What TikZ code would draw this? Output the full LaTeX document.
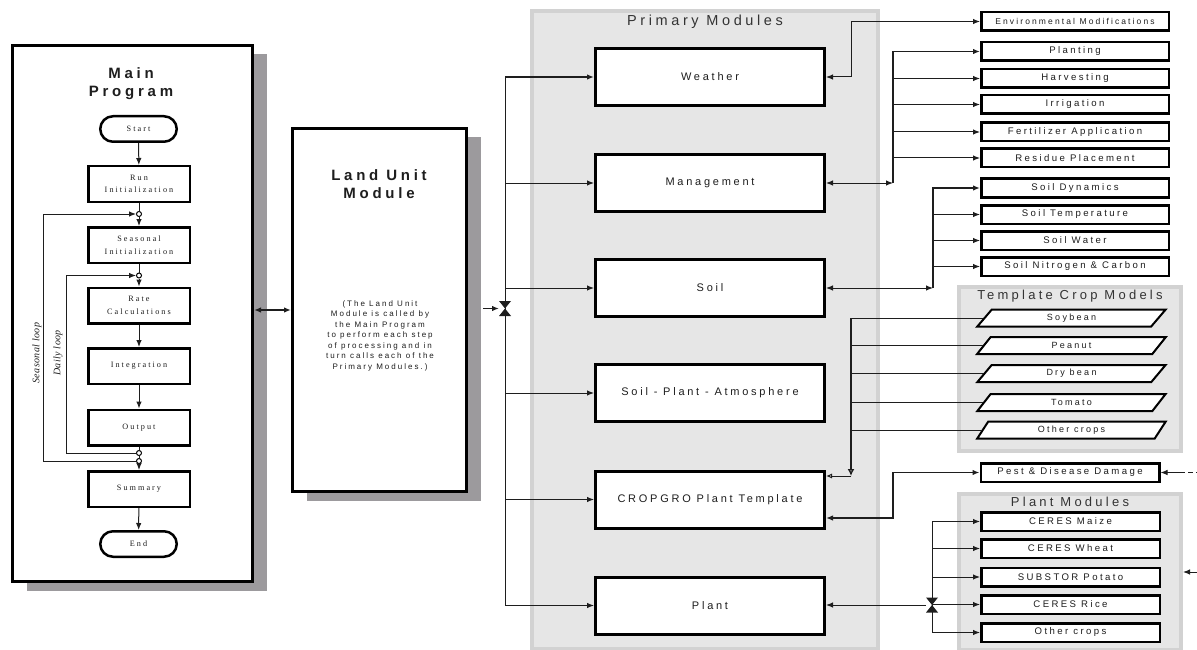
\documentclass[tikz,border=0pt]{standalone}
\usepackage{fontspec}
\setmainfont{Liberation Serif}
\setsansfont{Liberation Sans}
\newfontfamily\lsans[LetterSpace=25]{Liberation Sans}
\newfontfamily\lserif[LetterSpace=25]{Liberation Serif}
\newfontfamily\lseriftight[LetterSpace=4]{Liberation Serif}
\usetikzlibrary{arrows.meta,shapes.geometric,shadows,calc}
\definecolor{shadowgray}{HTML}{9C9A9D}
\definecolor{panelfill}{HTML}{E6E6E6}
\definecolor{panelline}{HTML}{D2D2D2}
\definecolor{ink}{HTML}{1E1E1E}
\definecolor{titlegray}{HTML}{333333}
\newcommand\myfs[2]{\fontsize{#1}{#2}\selectfont}
\tikzset{
  >={Latex[length=7pt,width=5.5pt]},
  bigbox/.style={draw, line width=3pt, fill=white, inner sep=0pt,
    drop shadow={shadow xshift=14pt, shadow yshift=-9pt, fill=shadowgray, opacity=1}},
  bigtitle/.style={font=\lsans\bfseries\myfs{15}{18}, align=center, text=ink},
  flowbox/.style={draw, line width=2.5pt, fill=white, minimum width=101.5pt,
    minimum height=35.5pt, inner sep=0pt, font=\lserif\myfs{8.2}{12.5}, align=center, text=ink},
  term/.style={flowbox, rounded corners=12.75pt, minimum width=76.5pt, minimum height=25.5pt},
  jdot/.style={circle, draw, fill=white, line width=1pt, minimum size=5pt, inner sep=0pt},
  modbox/.style={draw, line width=3pt, fill=white, minimum width=229pt,
    minimum height=57pt, inner sep=0pt, font=\lsans\myfs{11}{12}, text=ink},
  subbox/.style={draw, line width=2.5pt, fill=white, minimum width=187.5pt,
    minimum height=18.5pt, inner sep=0pt, font=\lsans\myfs{9.6}{10}, text=ink},
  plbox/.style={subbox, minimum width=178.5pt},
  crop/.style={trapezium, trapezium left angle=62, trapezium right angle=118,
    trapezium stretches=true, draw, line width=2pt, fill=white,
    minimum width=189pt, minimum height=17pt, inner sep=0pt, font=\lsans\myfs{9}{10}, text=ink},
  panel/.style={draw=panelline, fill=panelfill, line width=4pt, inner sep=0pt},
  paneltitle/.style={font=\lsans\myfs{13}{15}, text=titlegray},
  conn/.style={line width=1pt, draw=ink},
  thickconn/.style={line width=1.6pt, draw=ink},
  looplabel/.style={font=\lseriftight\itshape\myfs{10}{12}, text=ink, rotate=90},
  bowtie/.pic={\fill[ink] (-6,-7.5) -- (6,-7.5) -- (0,0) -- cycle;
               \fill[ink] (-6,7.5) -- (6,7.5) -- (0,0) -- cycle;}
}
\begin{document}
\begin{tikzpicture}[x=1pt,y=-1pt]
\useasboundingbox (0,0) rectangle (1197,650);

% ---------- panels ----------
\node[panel, minimum width=346pt, minimum height=638pt] (primpanel) at (705,330) {};
\node[panel, minimum width=222pt, minimum height=164pt] (temppanel) at (1070,369) {};
\node[panel, minimum width=222pt, minimum height=156pt] (plantpanel) at (1070,572) {};
\node[paneltitle, font=\lsans\myfs{14.5}{16}] (primtitle) at (705,22) {Primary Modules};
\node[paneltitle] (temptitle) at (1070,296.5) {Template Crop Models};
\node[paneltitle] (planttitle) at (1070,502) {Plant Modules};

% ---------- main program ----------
\node[bigbox, minimum width=240pt, minimum height=536pt] (mainbox) at (132.5,313.5) {};
\node[bigtitle] (maintitle) at (131,84) {Main\\Program};
\node[term] (start) at (138.5,129) {Start};
\node[flowbox] (runinit) at (139,184) {Run\\Initialization};
\node[jdot] (j1) at (139,214) {};
\node[flowbox] (seasinit) at (139,245) {Seasonal\\Initialization};
\node[jdot] (j2) at (139,275.5) {};
\node[flowbox] (rate) at (139,305.5) {Rate\\Calculations};
\node[flowbox] (integ) at (139,366) {Integration};
\node[flowbox] (output) at (139,427.5) {Output};
\node[jdot] (j3) at (139,453) {};
\node[jdot] (j4) at (139,461) {};
\node[flowbox] (summary) at (139,489) {Summary};
\node[term] (endn) at (138.5,544) {End};
\node[looplabel] (seasloop) at (37,353) {Seasonal loop};
\node[looplabel] (dailyloop) at (58,353) {Daily loop};
\coordinate (sl) at (43,300);
\coordinate (dl) at (66,300);

\draw[conn,->] (start) -- (runinit);
\draw[conn] (runinit) -- (j1);
\draw[conn,->] (j1) -- (seasinit);
\draw[conn] (seasinit) -- (j2);
\draw[conn,->] (j2) -- (rate);
\draw[conn,->] (rate) -- (integ);
\draw[conn,->] (integ) -- (output);
\draw[conn] (output) -- (j3);
\draw[conn] (j3) -- (j4);
\draw[conn,->] (j4) -- (summary);
\draw[conn,->] (summary) -- (endn);
\draw[conn,->] (j4.west) -- (j4.west -| sl) |- (j1.west);
\draw[conn,->] (j3.west) -- (j3.west -| dl) |- (j2.west);

% ---------- land unit ----------
\node[bigbox, minimum width=174pt, minimum height=363pt] (landunit) at (379.5,310) {};
\node[bigtitle] (landtitle) at (379,184) {Land Unit\\Module};
\node[font=\lsans\myfs{8}{10.5}, align=center, text=ink] (landtext) at (380,335.5)
  {(The Land Unit\\Module is called by\\the Main Program\\to perform each step\\of processing and in\\turn calls each of the\\Primary Modules.)};

\draw[thickconn,<->] (mainbox.east |- landunit.west) -- (landunit.west);

% ---------- primary modules ----------
\node[modbox] (weather) at (710,77) {Weather};
\node[modbox] (management) at (710,183) {Management};
\node[modbox] (soil) at (710,288) {Soil};
\node[modbox] (spa) at (710,393) {Soil - Plant - Atmosphere};
\node[modbox] (cropgro) at (710,499.5) {CROPGRO Plant Template};
\node[modbox] (plant) at (710,605.5) {Plant};

\coordinate (busL) at (505,308.5);
\draw[conn] (busL |- weather.west) -- (busL |- plant.west);
\draw[thickconn,->] (busL |- weather.west) -- (weather.west);
\foreach \m in {management,soil,spa,cropgro,plant}
  \draw[conn,->] (busL |- \m.west) -- (\m.west);
\pic at (busL) {bowtie};
\draw[thickconn,->] ($(landunit.east |- busL)+(15,0)$) -- ($(busL)+(-6,0)$);

% ---------- right-hand modules ----------
\node[subbox, font=\lsans\myfs{8.5}{9}] (envmod) at (1075,21.5) {Environmental Modifications};
\node[subbox] (planting) at (1075,51.5) {Planting};
\node[subbox] (harvesting) at (1075,78.5) {Harvesting};
\node[subbox] (irrigation) at (1075,104.5) {Irrigation};
\node[subbox] (fertilizer) at (1075,132) {Fertilizer Application};
\node[subbox] (residue) at (1075,158) {Residue Placement};
\node[subbox] (soildyn) at (1075,188) {Soil Dynamics};
\node[subbox] (soiltemp) at (1075,214.5) {Soil Temperature};
\node[subbox] (soilwater) at (1075,240.5) {Soil Water};
\node[subbox] (soilnc) at (1075,266.5) {Soil Nitrogen \& Carbon};

\node[crop] (soybean) at (1071.5,318) {Soybean};
\node[crop] (peanut) at (1071.5,345.5) {Peanut};
\node[crop] (drybean) at (1071.5,373.5) {Dry bean};
\node[crop] (tomato) at (1071.5,402.5) {Tomato};
\node[crop] (othercrop) at (1071.5,430) {Other crops};

\node[plbox] (pest) at (1070,472.5) {Pest \& Disease Damage};
\node[plbox] (maize) at (1070.5,521.5) {CERES Maize};
\node[plbox] (wheat) at (1070.5,548.5) {CERES Wheat};
\node[plbox] (potato) at (1070.5,577) {SUBSTOR Potato};
\node[plbox] (rice) at (1070.5,604.5) {CERES Rice};
\node[plbox] (otherplant) at (1070.5,632.5) {Other crops};

% weather -> environmental modifications
\draw[conn,<->] (weather.east) -- ++(25,0) |- (envmod.west);

% management -> operations
\coordinate (mb) at (893,183);
\draw[conn,<->] (management.east) -- (mb);
\draw[thickconn,->] (mb) |- (planting.west);
\foreach \m in {harvesting,irrigation,fertilizer,residue}
  \draw[conn,->] (mb |- \m.west) -- (\m.west);

% soil -> soil processes
\coordinate (sb) at (933,288);
\draw[conn,<->] (soil.east) -- (sb);
\draw[thickconn,->] (sb) |- (soildyn.west);
\foreach \m in {soiltemp,soilwater,soilnc}
  \draw[conn,->] (sb |- \m.west) -- (\m.west);

% template crop models -> cropgro
\coordinate (tb) at (851,476);
\foreach \m in {soybean,peanut,drybean,tomato,othercrop}
  \draw[conn] (\m.west) -- (tb |- \m.west);
\draw[thickconn,-{Latex[open,length=7pt,width=7pt]}] (tb |- soybean.west) -- (tb);
\draw[conn,-{Latex[open,length=6pt,width=5pt]}] (tb) -- (cropgro.east |- tb);

% cropgro <-> pest
\coordinate (pb) at (893,518);
\draw[thickconn,<->] (cropgro.east |- pb) -- (pb) |- (pest.west);
\coordinate (edgeA) at (1197,472.5);
\draw[conn,<-,dash pattern=on 18pt off 3pt on 5pt off 3pt on 5pt off 3pt] (pest.east) -- (edgeA);

% plant -> plant modules
\coordinate (plb) at (932,605);
\draw[conn] (plb |- maize.west) -- (plb |- otherplant.west);
\foreach \m in {maize,wheat,potato,rice,otherplant}
  \draw[conn,->] (plb |- \m.west) -- (\m.west);
\draw[conn,<-] (plant.east |- plb) -- ($(plb)+(-6,0)$);
\pic at (plb) {bowtie};
\coordinate (edgeB) at (1197,572);
\draw[conn,<-] (plantpanel.east |- edgeB) -- (edgeB);
\end{tikzpicture}
\end{document}
